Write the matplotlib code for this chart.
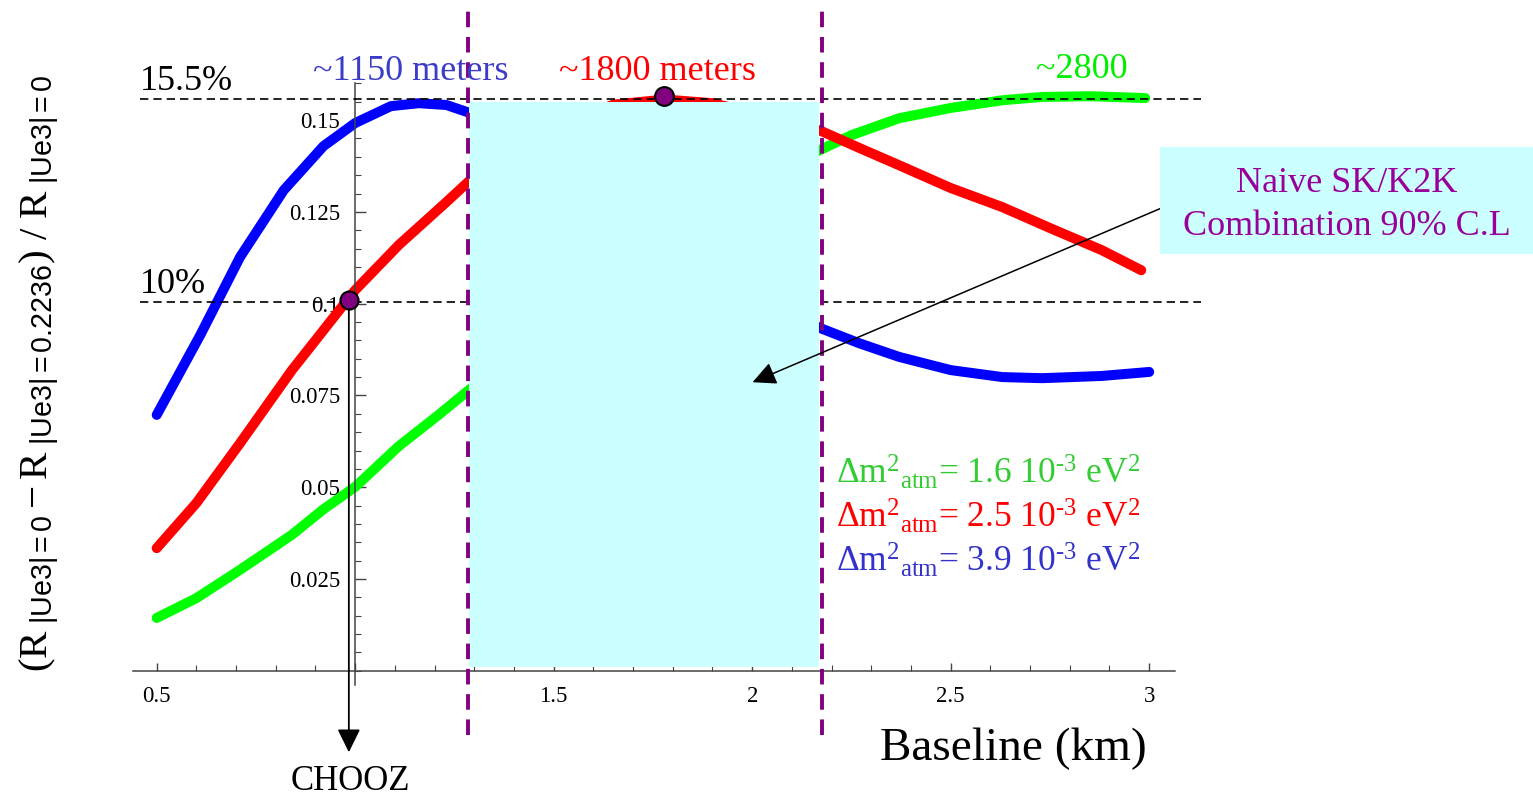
import matplotlib
matplotlib.use('Agg')
import matplotlib.pyplot as plt
from matplotlib import font_manager
from matplotlib.patches import Rectangle
from matplotlib.ticker import MultipleLocator

installed = {f.name for f in font_manager.fontManager.ttflist}
narrow = 'Liberation Sans Narrow' if 'Liberation Sans Narrow' in installed else 'Liberation Sans'

plt.rcParams['font.family'] = ['Liberation Serif', 'DejaVu Serif']
plt.rcParams['mathtext.fontset'] = 'custom'
plt.rcParams['mathtext.rm'] = 'Liberation Serif'
plt.rcParams['mathtext.it'] = 'Liberation Serif:italic'
plt.rcParams['mathtext.bf'] = 'Liberation Serif:bold'
plt.rcParams['mathtext.sf'] = narrow

# baseline (km) and relative rate difference for each dm2_atm
base_green = [0.5, 0.6, 0.71, 0.84, 0.92, 1.0, 1.11, 1.21, 1.29, 1.5, 1.75, 2.0,
              2.17, 2.25, 2.37, 2.5, 2.63, 2.73, 2.85, 2.99]
ratio_green = [0.0144, 0.0198, 0.0275, 0.0370, 0.0440, 0.0501, 0.0612, 0.0697, 0.0768, 0.096, 0.116, 0.132,
               0.1418, 0.1459, 0.1505, 0.1533, 0.1554, 0.1563, 0.1565, 0.1560]

base_red = [0.5, 0.6, 0.71, 0.84, 0.94, 1.0, 1.11, 1.23, 1.29, 1.5, 1.65, 1.78, 1.9, 2.0,
            2.17, 2.27, 2.37, 2.5, 2.63, 2.75, 2.88, 2.98]
ratio_red = [0.0334, 0.0457, 0.0620, 0.0818, 0.0955, 0.1037, 0.1160, 0.1277, 0.1337, 0.148, 0.1542, 0.1556, 0.1546, 0.152,
             0.1472, 0.1424, 0.1377, 0.1315, 0.1263, 0.1206, 0.1146, 0.1091]

base_blue = [0.5, 0.61, 0.71, 0.82, 0.92, 1.0, 1.09, 1.16, 1.23, 1.29, 1.5, 1.75, 2.0,
             2.17, 2.27, 2.37, 2.5, 2.63, 2.73, 2.88, 3.0]
ratio_blue = [0.0697, 0.0915, 0.1127, 0.1309, 0.1429, 0.1492, 0.1538, 0.1546, 0.1541, 0.1519, 0.140, 0.121, 0.103,
              0.0934, 0.0892, 0.0855, 0.0819, 0.0800, 0.0797, 0.0803, 0.0814]

levels = [0.1558, 0.1005]           # 15.5% and 10% guide lines
skk2k_range = (1.287, 2.168)        # naive SK/K2K combination, 90% C.L
skk2k_top = 0.155
skk2k_edges = (1.284, 2.176)
chooz = (0.984, 0.1009)
peak_1800 = (1.777, 0.1565)

xticks = [0.5, 1, 1.5, 2, 2.5, 3]
xticklabels = ['0.5', '', '1.5', '2', '2.5', '3']
yticks = [0.025, 0.05, 0.075, 0.1, 0.125, 0.15]
yticklabels = ['0.025', '0.05', '0.075', '0.1', '0.125', '0.15']

W, H = 1533, 799
fig = plt.figure(figsize=(W / 100, H / 100), dpi=100)
ax = fig.add_axes([133 / W, 1 - 685 / H, (1175 - 133) / W, (685 - 83) / H])
ax.set_xlim(0.4403, 3.065)
ax.set_ylim(-0.00387, 0.1601)
ax.patch.set_alpha(0)

for s in ['top', 'right']:
    ax.spines[s].set_visible(False)
ax.spines['left'].set_position(('data', 1.0))
ax.spines['bottom'].set_position(('data', 0))
for s in ['left', 'bottom']:
    ax.spines[s].set_color('#444444')
    ax.spines[s].set_linewidth(1.1)

ax.set_xticks(xticks, xticklabels)
ax.set_yticks(yticks, yticklabels)
ax.xaxis.set_minor_locator(MultipleLocator(0.1))
ax.yaxis.set_minor_locator(MultipleLocator(0.005))
ax.tick_params(axis='x', which='major', direction='in', length=6, width=1, labelsize=16.5, pad=11, color='#444444')
ax.tick_params(axis='x', which='minor', direction='in', length=4, width=0.8, color='#444444')
ax.tick_params(axis='y', which='major', direction='in', length=8, width=1, labelsize=16.5, pad=11, color='#444444')
ax.tick_params(axis='y', which='minor', direction='in', length=4, width=0.8, color='#444444')

lw = 7.2
ax.plot(base_green, ratio_green, color='#00ff00', lw=lw, solid_capstyle='round', zorder=2)
ax.plot(base_red, ratio_red, color='#ff0000', lw=lw, solid_capstyle='round', zorder=2)
ax.plot(base_blue, ratio_blue, color='#0000ff', lw=lw, solid_capstyle='round', zorder=2)

# guide lines
for lev in levels:
    ax.plot([0.457, 3.131], [lev, lev], color='black', lw=1.2, dashes=(5, 3), clip_on=False, zorder=3)

ax.add_patch(Rectangle((skk2k_range[0], 0.001), skk2k_range[1] - skk2k_range[0], skk2k_top - 0.001,
                       facecolor='#ccffff', edgecolor='none', zorder=4))
for xe in skk2k_edges:
    ax.plot([xe, xe], [-0.0175, 0.1805], color='#800080', lw=2.8, dashes=(4, 2.5), clip_on=False, zorder=5)

ax.plot(*peak_1800, 'o', ms=13.5, mfc='#800080', mec='black', mew=1.5, zorder=6, clip_on=False)

# CHOOZ arrow
ax.annotate('', xy=(chooz[0], -0.0222), xytext=chooz, annotation_clip=False,
            arrowprops=dict(arrowstyle='-|>,head_length=0.55,head_width=0.27', mutation_scale=26,
                            color='black', lw=1.3, shrinkA=0, shrinkB=0), zorder=6)
ax.plot(*chooz, 'o', ms=13, mfc='#800080', mec='black', mew=1.5, zorder=7, clip_on=False)

# SK/K2K box arrow
ax.annotate('', xy=(2.001, 0.0786), xytext=(3.030, 0.126), annotation_clip=False,
            arrowprops=dict(arrowstyle='-|>,head_length=0.55,head_width=0.27', mutation_scale=26,
                            color='black', lw=1.1, shrinkA=0, shrinkB=0), zorder=6)

fig.patches.append(Rectangle((1160 / W, 1 - 254 / H), 373 / W, 107 / H, transform=fig.transFigure,
                             facecolor='#ccffff', edgecolor='none', zorder=1))


def ftext(x, y, s, **kw):
    fig.text(x / W, 1 - y / H, s, **kw)


ftext(1347, 192, 'Naive SK/K2K', ha='center', va='baseline', fontsize=26, color='#990099')
ftext(1347, 235, 'Combination 90% C.L', ha='center', va='baseline', fontsize=26, color='#990099')

ftext(140, 90, '15.5%', ha='left', va='baseline', fontsize=26)
ftext(140, 293, '10%', ha='left', va='baseline', fontsize=26)
ftext(411, 80, '~1150 meters', ha='center', va='baseline', fontsize=26, color='#3c3cc8')
ftext(657, 80, '~1800 meters', ha='center', va='baseline', fontsize=26, color='#ff0000')
ftext(1082, 78, '~2800', ha='center', va='baseline', fontsize=26, color='#00ee00')

legend_rows = [('1.6', '#33cc33', 484), ('2.5', '#ff0000', 528), ('3.9', '#3333cc', 572)]
for val, col, yb in legend_rows:
    ftext(836, yb, r'$\Delta\mathrm{m}^{2}{}_{\mathrm{atm}}$= ' + val + ' 10$^{\u20103}$ eV$^{2}$',
          ha='left', va='baseline', fontsize=25.5, color=col)

ftext(350, 790, 'CHOOZ', ha='center', va='baseline', fontsize=25)
ftext(880, 760, 'Baseline (km)', ha='left', va='baseline', fontsize=34)

ftext(40, 373, r'$(\mathrm{R}_{\ \mathsf{|Ue3|=0}} - \mathrm{R}_{\ \mathsf{|Ue3|=0.2236}})\ /\ \mathrm{R}_{\ \mathsf{|Ue3|=0}}$',
      ha='center', va='center', rotation=90, fontsize=29.5)

fig.savefig('out.png', dpi=100)
